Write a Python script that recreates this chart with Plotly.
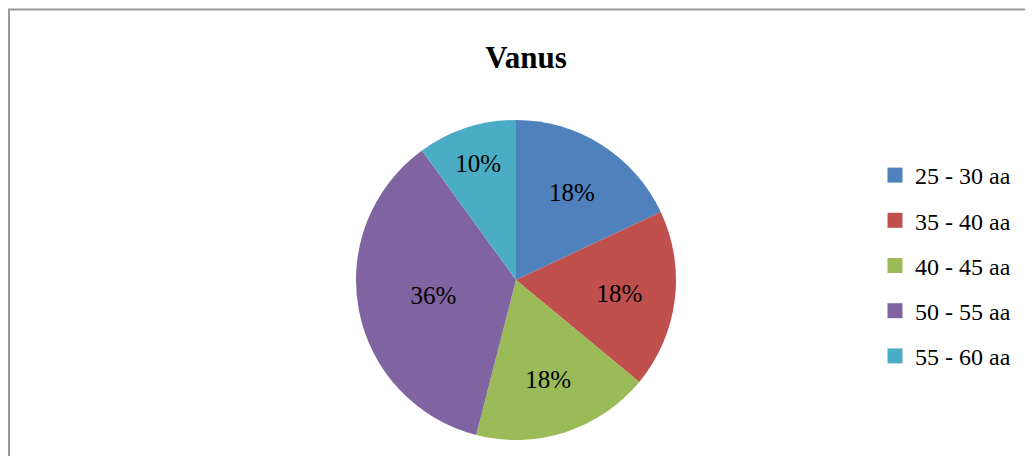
import plotly.graph_objects as go

categories = ["25 - 30 aa", "35 - 40 aa", "40 - 45 aa", "50 - 55 aa", "55 - 60 aa"]
values = [18, 18, 18, 36, 10]
colors = ["#4F81BD", "#C0504D", "#9BBB59", "#8064A2", "#4BACC6"]
title_text = "Vanus"

W, H = 1033, 456
serif = "Liberation Serif, Times New Roman, serif"
cx, cy, r = 508, 272, 160  # pie centre / radius in paper pixels (from top-left)

fig = go.Figure()
fig.add_trace(go.Pie(
    labels=categories, values=values, sort=False, direction="clockwise", rotation=0,
    marker=dict(colors=colors, line=dict(color="white", width=0)),
    texttemplate="%{percent:.0%}", textposition="inside", insidetextorientation="horizontal",
    textfont=dict(family=serif, size=25, color="black"),
    showlegend=False, hoverinfo="label+percent",
    domain=dict(x=[(cx - r) / W, (cx + r) / W], y=[(H - cy - r) / H, (H - cy + r) / H]),
))
for c, col in zip(categories, colors):
    fig.add_trace(go.Scatter(
        x=[None], y=[None], mode="markers", name=c, legendgroup=c,
        marker=dict(symbol="square", size=15, color=col),
    ))

fig.update_layout(
    width=W, height=H, margin=dict(l=0, r=0, t=0, b=0),
    paper_bgcolor="white", plot_bgcolor="white",
    xaxis=dict(visible=False), yaxis=dict(visible=False),
    title=dict(text="<b>%s</b>" % title_text, x=518 / W, xanchor="center", y=1 - 49 / H, yanchor="middle",
               font=dict(family=serif, size=31, color="black")),
    legend=dict(x=867 / W, xanchor="left", y=1 - 145 / H, yanchor="top",
                font=dict(family=serif, size=24, color="black"),
                tracegroupgap=11, itemwidth=30, bgcolor="rgba(0,0,0,0)"),
    shapes=[dict(type="rect", xref="paper", yref="paper", x0=1 / W, x1=1.05, y0=-0.05, y1=1 - 1.5 / H,
                 line=dict(color="#999999", width=2), fillcolor="rgba(0,0,0,0)", layer="below")],
)
fig.write_html("out.html")
